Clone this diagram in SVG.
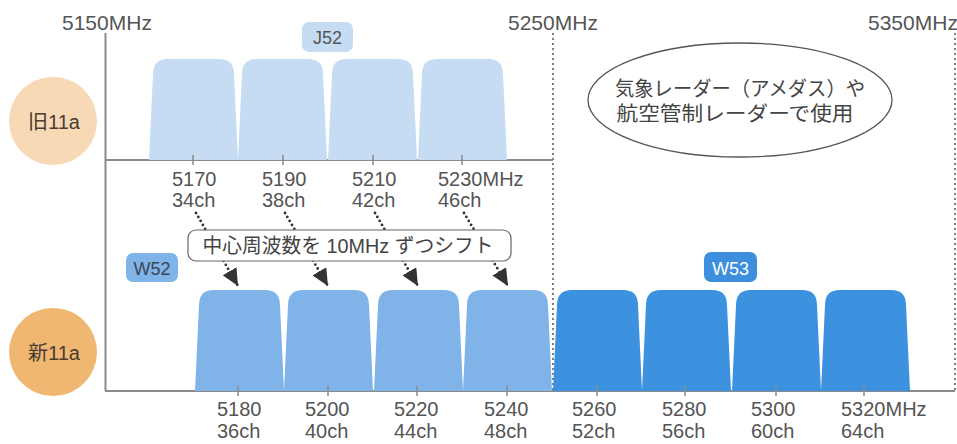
<svg xmlns="http://www.w3.org/2000/svg" width="957" height="444" viewBox="0 0 957 444">
<style>
  text { font-family: "Liberation Sans", "Noto Sans CJK JP", sans-serif; fill: #555; }
  .axis { stroke: #8a8a8a; stroke-width: 2; fill: none; }
  .tick { stroke: #8a8a8a; stroke-width: 1.5; }
  .dash { stroke: #555; stroke-width: 1.5; stroke-dasharray: 2 3; fill: none; }
  .freq { font-size: 20px; }
  .top { font-size: 21px; }
  .old { fill: #c5dcf3; }
  .w52 { fill: #80b4e8; }
  .w53 { fill: #3d92e0; }
  .tag { font-size: 18px; text-anchor: middle; }
  .circ { font-size: 20px; text-anchor: middle; fill: #4a3c30; }
  .jp { font-size: 20px; text-anchor: middle; fill: #444; }
  .conn { stroke: #333; stroke-width: 2.8; stroke-linecap: round; stroke-dasharray: 0 4.6; fill: none; }
</style>
<defs>
  <path id="blk" d="M0,101 L4,15 Q4,0 19,0 L70,0 Q85,0 85,15 L89,101 Z"/>
  <marker id="ah" markerUnits="userSpaceOnUse" markerWidth="18" markerHeight="16" refX="17" refY="8" orient="auto">
    <path d="M0,0 L17,8 L0,16 Z" fill="#333"/>
  </marker>
</defs>
<rect width="957" height="444" fill="#fff"/>

<g id="axes">
  <line class="dash" x1="553" y1="33" x2="553" y2="391"/>
  <line class="dash" x1="955" y1="33" x2="955" y2="391"/>
  <line class="axis" x1="105.5" y1="33" x2="105.5" y2="391"/>
  <line class="axis" x1="105" y1="160" x2="553" y2="160"/>
  <line class="axis" x1="105" y1="391" x2="955" y2="391"/>
  <text class="top" x="62" y="30">5150MHz</text>
  <text class="top" x="508" y="30">5250MHz</text>
  <text class="top" x="868" y="30">5350MHz</text>
</g>

<g id="old-channels">
  <use href="#blk" class="old" x="149" y="59"/>
  <use href="#blk" class="old" x="238" y="59"/>
  <use href="#blk" class="old" x="328" y="59"/>
  <use href="#blk" class="old" x="418" y="59"/>
  <line class="tick" x1="193" y1="155" x2="193" y2="165"/>
  <line class="tick" x1="283" y1="155" x2="283" y2="165"/>
  <line class="tick" x1="373" y1="155" x2="373" y2="165"/>
  <line class="tick" x1="462" y1="155" x2="462" y2="165"/>
  <text class="freq" x="172" y="186">5170</text><text class="freq" x="172" y="207">34ch</text>
  <text class="freq" x="262" y="186">5190</text><text class="freq" x="262" y="207">38ch</text>
  <text class="freq" x="352" y="186">5210</text><text class="freq" x="352" y="207">42ch</text>
  <text class="freq" x="438" y="186">5230MHz</text><text class="freq" x="438" y="207">46ch</text>
</g>

<g id="j52">
  <rect x="302" y="22" width="51" height="30" rx="7" fill="#c5dcf3"/>
  <text class="tag" x="327.5" y="44">J52</text>
</g>

<g id="old11a">
  <circle cx="53" cy="121" r="44" fill="#f8d9b5"/>
  <text class="circ" x="54" y="129">旧11a</text>
</g>

<g id="new11a">
  <circle cx="53" cy="352" r="44" fill="#f0b772"/>
  <text class="circ" x="54" y="360">新11a</text>
</g>

<g id="radar-note">
  <ellipse cx="740" cy="100" rx="152" ry="57" fill="#fff" stroke="#555" stroke-width="1.3"/>
  <text class="jp" x="740" y="96" textLength="250" lengthAdjust="spacingAndGlyphs">気象レーダー（アメダス）や</text>
  <text class="jp" x="735" y="121" textLength="237" lengthAdjust="spacingAndGlyphs">航空管制レーダーで使用</text>
</g>

<g id="connectors">
  <line class="conn" x1="196" y1="213" x2="238" y2="286" marker-end="url(#ah)"/>
  <line class="conn" x1="285" y1="213" x2="328" y2="286" marker-end="url(#ah)"/>
  <line class="conn" x1="375" y1="213" x2="418" y2="286" marker-end="url(#ah)"/>
  <line class="conn" x1="464" y1="213" x2="508" y2="286" marker-end="url(#ah)"/>
</g>

<g id="shift-note">
  <rect x="188" y="230" width="323" height="31" rx="8" fill="#fff" stroke="#666" stroke-width="1.2"/>
  <text class="jp" x="348" y="253" textLength="291" lengthAdjust="spacingAndGlyphs">中心周波数を 10MHz ずつシフト</text>
</g>

<g id="w52">
  <rect x="126" y="253" width="52" height="29" rx="7" fill="#80b4e8"/>
  <text class="tag" x="152" y="275" style="fill:#3a4656">W52</text>
  <use href="#blk" class="w52" x="195" y="290"/>
  <use href="#blk" class="w52" x="284" y="290"/>
  <use href="#blk" class="w52" x="374" y="290"/>
  <use href="#blk" class="w52" x="463" y="290"/>
</g>

<g id="w53">
  <rect x="704" y="252" width="53" height="30" rx="7" fill="#3d8fdd"/>
  <text class="tag" x="730.5" y="275" style="fill:#fff">W53</text>
  <use href="#blk" class="w53" x="553" y="290"/>
  <use href="#blk" class="w53" x="642" y="290"/>
  <use href="#blk" class="w53" x="732" y="290"/>
  <use href="#blk" class="w53" x="821" y="290"/>
</g>

<g id="new-axis-labels">
  <line class="tick" x1="238" y1="386" x2="238" y2="396"/>
  <line class="tick" x1="328" y1="386" x2="328" y2="396"/>
  <line class="tick" x1="417" y1="386" x2="417" y2="396"/>
  <line class="tick" x1="507" y1="386" x2="507" y2="396"/>
  <line class="tick" x1="597" y1="386" x2="597" y2="396"/>
  <line class="tick" x1="685" y1="386" x2="685" y2="396"/>
  <line class="tick" x1="776" y1="386" x2="776" y2="396"/>
  <line class="tick" x1="864" y1="386" x2="864" y2="396"/>
  <text class="freq" x="217" y="416">5180</text><text class="freq" x="217" y="438">36ch</text>
  <text class="freq" x="305" y="416">5200</text><text class="freq" x="305" y="438">40ch</text>
  <text class="freq" x="394" y="416">5220</text><text class="freq" x="394" y="438">44ch</text>
  <text class="freq" x="484" y="416">5240</text><text class="freq" x="484" y="438">48ch</text>
  <text class="freq" x="572" y="416">5260</text><text class="freq" x="572" y="438">52ch</text>
  <text class="freq" x="662" y="416">5280</text><text class="freq" x="662" y="438">56ch</text>
  <text class="freq" x="751" y="416">5300</text><text class="freq" x="751" y="438">60ch</text>
  <text class="freq" x="841" y="416">5320MHz</text><text class="freq" x="841" y="438">64ch</text>
</g>
</svg>
